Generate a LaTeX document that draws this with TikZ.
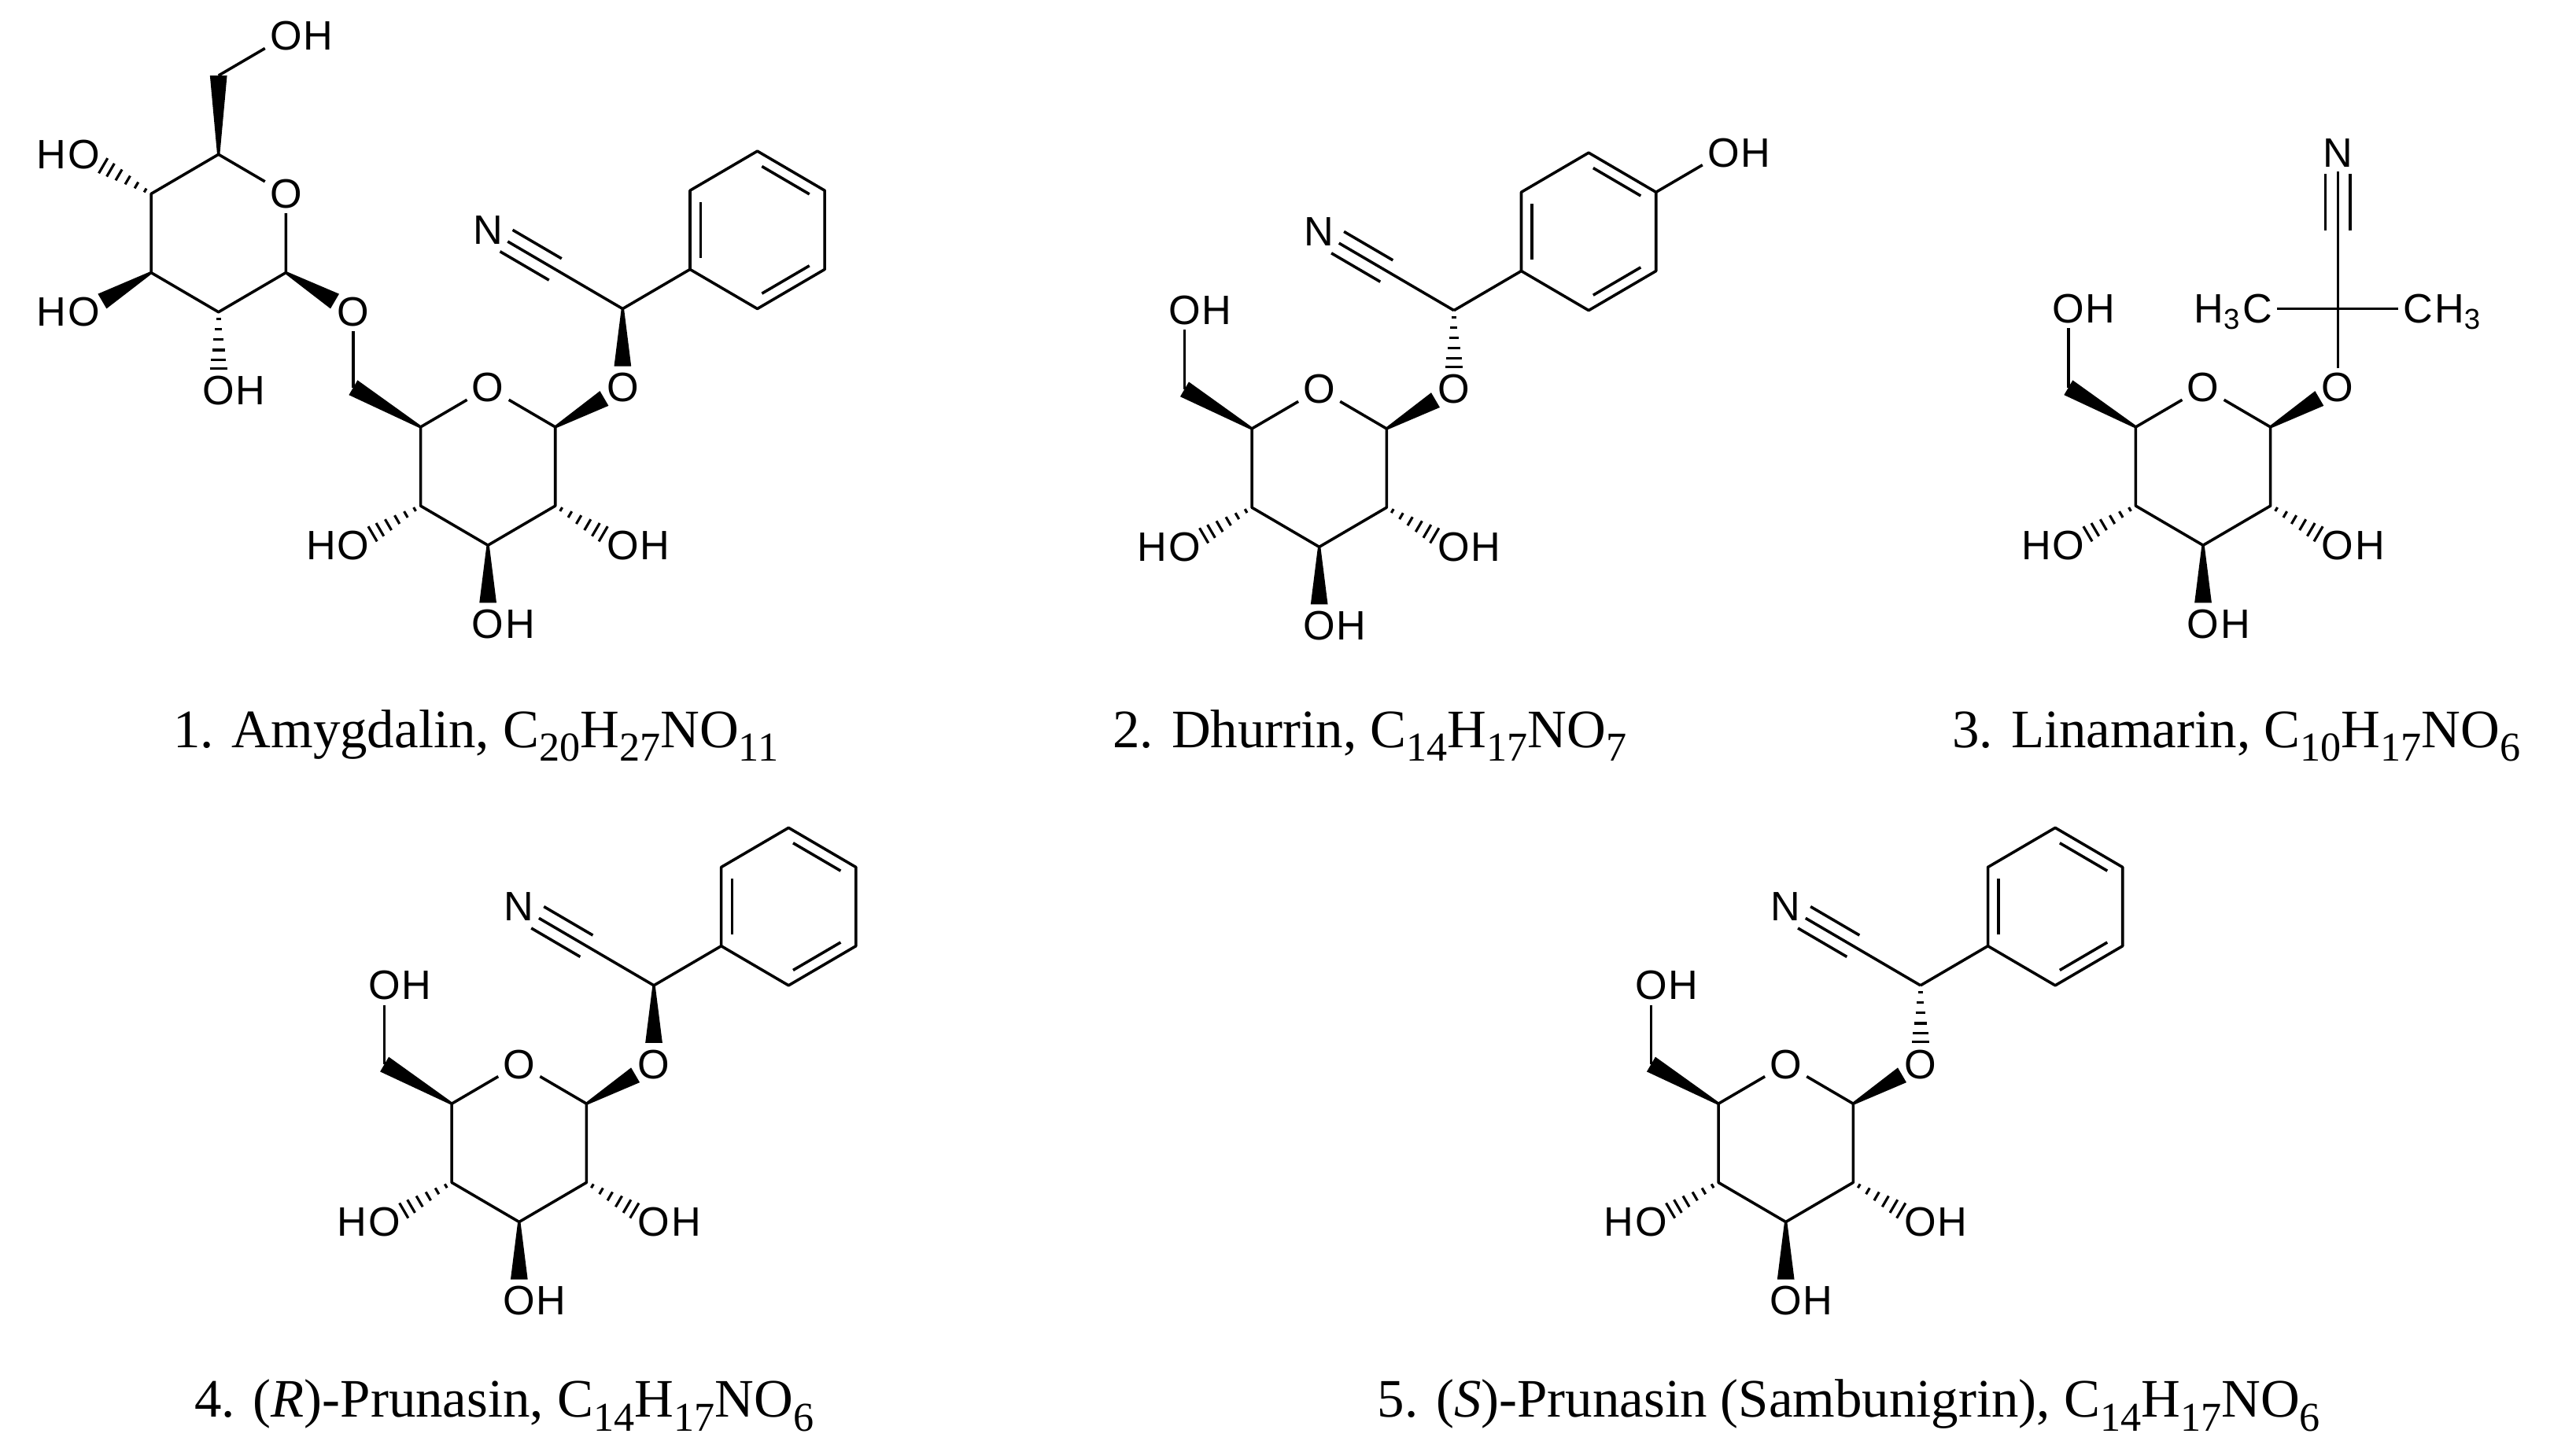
\documentclass[tikz,border=0pt]{standalone}
\usepackage{fontspec}
\setmainfont{Liberation Serif}
\newfontfamily\af{Liberation Sans}
\usetikzlibrary{calc}
\tikzset{
 bond/.style={line width=0.85pt, line join=round},
 atom/.style={font=\af\fontsize{12.5}{14}\selectfont, inner sep=1.3pt},
 hlab/.style={font=\af\fontsize{12.5}{14}\selectfont, inner sep=0pt},
 captext/.style={font=\fontsize{16.5}{20}\selectfont, inner sep=0pt, anchor=base west},
}
\newcommand\csub[1]{\raisebox{-0.25em}{\fontsize{12.5}{13}\selectfont #1}}
\newcommand\BW[2]{\fill ($(#1)!0.4pt!90:(#2)$) -- ($(#2)!2.6pt!-90:(#1)$) -- ($(#2)!2.6pt!90:(#1)$) -- ($(#1)!0.4pt!-90:(#2)$) -- cycle;}
\newcommand\BWL[2]{\path ($(#2)!6.5pt!(#1)$) coordinate (wend); \BW{#1}{wend}}
\newcommand\HW[2]{\foreach \t [evaluate=\t as \hd using 0.4+2.3*\t] in {0.12,0.3,0.48,0.66,0.83,0.98}{\path ($(#1)!\t!(#2)$) coordinate (hwp); \draw[line width=0.75pt] ($(hwp)!\hd pt!90:(#1)$) -- ($(hwp)!\hd pt!-90:(#1)$);}}
\newcommand\HWL[2]{\path ($(#2)!6.5pt!(#1)$) coordinate (wend2); \HW{#1}{wend2}}
\newcommand\OHr[2]{\node[atom] (#1) at (#2) {O}; \node[hlab,anchor=base west] at ([xshift=-1.3pt]#1.base east) {H};}
\newcommand\HOl[2]{\node[atom] (#1) at (#2) {O}; \node[hlab,anchor=base east] at ([xshift=1.3pt]#1.base west) {H};}
\newcommand\dbl[3]{\path ($(#1)!0.84!(#2)$) coordinate (da) ($(#1)!0.84!(#3)$) coordinate (db); \draw[bond] ($(da)!0.08!(db)$) -- ($(db)!0.08!(da)$);}
\newcommand\trip[2]{\path ($(#2)!6.5pt!(#1)$) coordinate (te);
 \draw[bond] ($(#1)!3.8pt!90:(te)$) -- ($(te)!3.8pt!-90:(#1)$);
 \draw[bond] ($(#1)!3.8pt!-90:(te)$) -- ($(te)!3.8pt!90:(#1)$);}
\newcommand\glc[3]{%
 \coordinate (#1c1) at ({#2+41},{#3-24});
 \coordinate (#1c2) at ({#2+41},{#3+24});
 \coordinate (#1c3) at ({#2},{#3+48});
 \coordinate (#1c4) at ({#2-41},{#3+24});
 \coordinate (#1c5) at ({#2-41},{#3-24});
 \coordinate (#1c6) at ({#2-82},{#3-48});
 \coordinate (#1p2) at ({#2+82},{#3+48});
 \coordinate (#1p3) at ({#2},{#3+96});
 \coordinate (#1p4) at ({#2-82},{#3+48});
 \node[atom] (#1o) at ({#2},{#3-48}) {O};
 \node[atom] (#1og) at ({#2+82},{#3-48}) {O};
 \OHr{#1o2}{#1p2}
 \OHr{#1o3}{#1p3}
 \HOl{#1o4}{#1p4}
 \draw[bond] (#1o) -- (#1c1) -- (#1c2) -- (#1c3) -- (#1c4) -- (#1c5) -- (#1o);
 \HWL{#1c2}{#1o2}
 \BWL{#1c3}{#1o3}
 \HWL{#1c4}{#1o4}
 \BWL{#1c1}{#1og}
 \BW{#1c5}{#1c6}
}
\newcommand\ohsix[3]{\coordinate (#1p6) at ({#2-82},{#3-96}); \OHr{#1o6}{#1p6} \draw[bond] (#1c6) -- (#1o6);}
\newcommand\phen[3]{%
 \coordinate (#1ctr) at ({#2},{#3});
 \coordinate (#1v0) at ({#2},{#3-48});
 \coordinate (#1v1) at ({#2+41},{#3-24});
 \coordinate (#1v2) at ({#2+41},{#3+24});
 \coordinate (#1v3) at ({#2},{#3+48});
 \coordinate (#1v4) at ({#2-41},{#3+24});
 \coordinate (#1v5) at ({#2-41},{#3-24});
 \draw[bond] (#1v0) -- (#1v1) -- (#1v2) -- (#1v3) -- (#1v4) -- (#1v5) -- cycle;
 \dbl{#1ctr}{#1v4}{#1v5}
 \dbl{#1ctr}{#1v0}{#1v1}
 \dbl{#1ctr}{#1v2}{#1v3}
}
\newcommand\mand[4]{%
 \coordinate (#1ch) at ({#2+82},{#3-96});
 \coordinate (#1nc) at ({#2+41},{#3-120});
 \node[atom] (#1n) at ({#2},{#3-144}) {N};
 \phen{#1}{#2+164}{#3-144}
 \draw[bond] (#1ch) -- (#1n);
 \trip{#1nc}{#1n}
 \draw[bond] (#1ch) -- (#1v4);
 #4{#1ch}{#1og}
}
\begin{document}
\begin{tikzpicture}[x=0.5pt,y=-0.5pt]
\useasboundingbox (0,0) rectangle (1568,884);
% ---------- 1. Amygdalin ----------
\coordinate (a5) at (133,94);
\node[atom] (ao) at (174,118) {O};
\coordinate (a1) at (174,166);
\coordinate (a2) at (133,190);
\coordinate (a3) at (92,166);
\coordinate (a4) at (92,118);
\coordinate (a6) at (133,46);
\coordinate (ap6) at (174,22);
\coordinate (ap4) at (51,94);
\coordinate (ap3) at (51,190);
\coordinate (ap2) at (133,238);
\OHr{ao6}{ap6}
\HOl{ao4}{ap4}
\HOl{ao3}{ap3}
\OHr{ao2}{ap2}
\node[atom] (lnk) at (215,190) {O};
\draw[bond] (ao) -- (a1) -- (a2) -- (a3) -- (a4) -- (a5) -- (ao);
\BW{a5}{a6}
\draw[bond] (a6) -- (ao6);
\HWL{a4}{ao4}
\BWL{a3}{ao3}
\HWL{a2}{ao2}
\BWL{a1}{lnk}
\glc{b}{297}{284}
\draw[bond] (bc6) -- (lnk);
\mand{b}{297}{284}{\BWL}
% ---------- 2. Dhurrin ----------
\glc{d}{803}{285}
\ohsix{d}{803}{285}
\mand{d}{803}{285}{\HWL}
\coordinate (dpo) at (1049,93);
\OHr{dop}{dpo}
\draw[bond] (dv1) -- (dop);
% ---------- 3. Linamarin ----------
\glc{c}{1341}{284}
\ohsix{c}{1341}{284}
\coordinate (cq) at (1423,188);
\coordinate (cnc) at (1423,140.5);
\node[atom] (cn) at (1423,93) {N};
\node[atom] (cm1) at (1374,188) {C};
\node[hlab,anchor=base east] at ([xshift=1.3pt]cm1.base west) {H\textsubscript{3}};
\node[atom] (cm2) at (1472,188) {C};
\node[hlab,anchor=base west] at ([xshift=-1.3pt]cm2.base east) {H\textsubscript{3}};
\draw[bond] (cm1) -- (cq) -- (cm2);
\draw[bond] (cog) -- (cq) -- (cn);
\trip{cnc}{cn}
% ---------- 4. (R)-Prunasin ----------
\glc{r}{316}{696}
\ohsix{r}{316}{696}
\mand{r}{316}{696}{\BWL}
% ---------- 5. (S)-Prunasin ----------
\glc{s}{1087}{696}
\ohsix{s}{1087}{696}
\mand{s}{1087}{696}{\HWL}
% ---------- captions ----------
\node[captext] (t1) at (105,455) {1. Amygdalin, C\csub{20}H\csub{27}NO\csub{11}};
\node[captext] (t2) at (677,455) {2. Dhurrin, C\csub{14}H\csub{17}NO\csub{7}};
\node[captext] (t3) at (1188,455) {3. Linamarin, C\csub{10}H\csub{17}NO\csub{6}};
\node[captext] (t4) at (118,863) {4. (\textit{R})-Prunasin, C\csub{14}H\csub{17}NO\csub{6}};
\node[captext] (t5) at (838,863) {5. (\textit{S})-Prunasin (Sambunigrin), C\csub{14}H\csub{17}NO\csub{6}};
\end{tikzpicture}
\end{document}
